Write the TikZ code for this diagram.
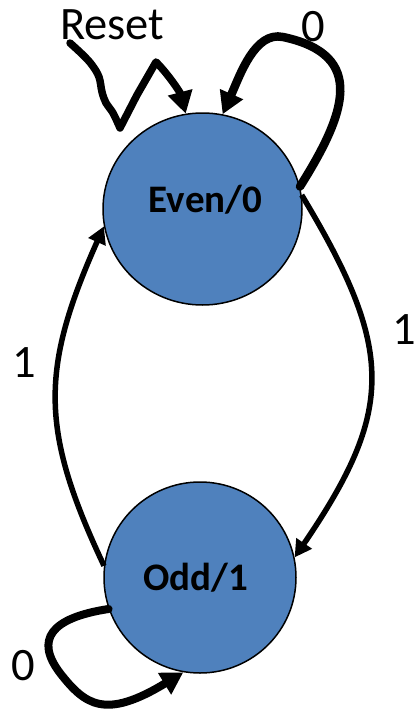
\documentclass[tikz,border=0pt]{standalone}
\usepackage{fontspec}
\setmainfont{Carlito}
\usetikzlibrary{arrows.meta,shapes.geometric}

\definecolor{statefill}{RGB}{79,129,189}

\tikzset{
  state/.style={ellipse, draw=black, line width=1.5pt, fill=statefill, inner sep=0pt},
  statetext/.style={inner sep=0pt, font=\fontsize{39}{41}\selectfont\bfseries},
  edgelabel/.style={inner sep=0pt, anchor=base, font=\fontsize{46.5}{48}\selectfont},
  thinedge/.style={line width=5.5pt, -{Triangle[length=17pt,width=18pt]}},
  thickedge/.style={line width=8.5pt, line cap=round, line join=round,
    -{Triangle[length=22pt,width=24pt]}},
}

\begin{document}
\begin{tikzpicture}[x=1pt,y=-1pt]
  \useasboundingbox (0,0) rectangle (417,717);

  % states
  \node[state, minimum width=199pt, minimum height=192pt,
        label={[statetext, shift={(3pt,9pt)}]center:Even/0}] (even) at (202.5,209) {};
  \node[state, minimum width=192pt, minimum height=191pt,
        label={[statetext, shift={(-4pt,0pt)}]center:Odd/1}] (odd) at (200,577.5) {};

  % reset input, a free-hand stroke ending on the initial state
  \coordinate (rst) at (70,43);
  \draw[thickedge, line width=7.5pt]
    plot[smooth, tension=0.6] coordinates {(rst) (83,55) (92,65) (99,77) (102,92) (106,103) (113,113) (120,128)}
    -- (137,95) -- (156,62)
    .. controls (168,74) and (180,92) .. (even.100);

  % transitions between the states
  \draw[thinedge] (even.8) .. controls (395,350) and (395,410) .. (odd.12);
  \draw[thinedge] (odd.173) .. controls (40,430) and (40,370) .. (even.190);

  % self loops
  \draw[thickedge] (even.13) .. controls (345,115) and (368,55) .. (283,37)
    .. controls (255,31) and (240,75) .. (even.78);
  \draw[thickedge, line width=8pt] (odd.199) .. controls (50,618) and (35,640) .. (60,673)
    .. controls (85,705) and (105,720) .. (odd.260);

  % labels
  \node[edgelabel, anchor=base west] (lreset) at (60,40) {Reset};
  \node[edgelabel] (ltop) at (313,42) {0};
  \node[edgelabel] (lright) at (404,344) {1};
  \node[edgelabel] (lleft) at (24,377) {1};
  \node[edgelabel] (lbottom) at (23,680) {0};
\end{tikzpicture}
\end{document}
